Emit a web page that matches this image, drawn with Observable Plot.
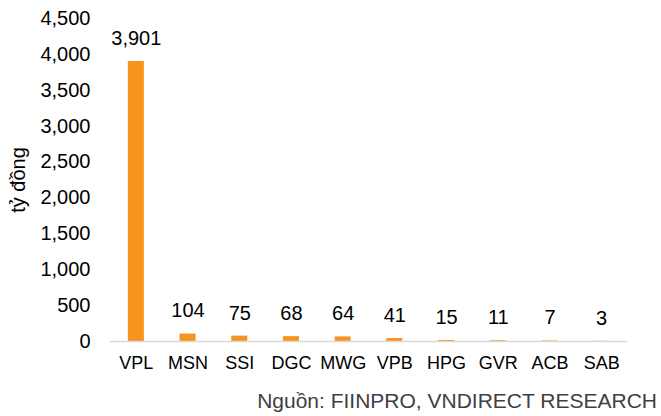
<!DOCTYPE html>
<html>
<head>
<meta charset="utf-8">
<script src="https://cdn.jsdelivr.net/npm/d3@7"></script>
<script src="https://cdn.jsdelivr.net/npm/@observablehq/plot@0.6"></script>
<style>
  body { margin: 0; background: #fff; font-family: "Liberation Sans", Arial, sans-serif; }
  #wrap { width: 661px; height: 416px; position: relative; }
  #caption { position: absolute; right: 4px; top: 389px; font-size: 21px; line-height: 24px; color: #404040; }
</style>
</head>
<body>
<div id="wrap"><div id="chart"></div><div id="caption">Nguồn: FIINPRO, VNDIRECT RESEARCH</div></div>
<script>
const tickers = ["VPL", "MSN", "SSI", "DGC", "MWG", "VPB", "HPG", "GVR", "ACB", "SAB"];
const values = [3901, 104, 75, 68, 64, 41, 15, 11, 7, 3];
const yTicks = [0, 500, 1000, 1500, 2000, 2500, 3000, 3500, 4000, 4500];
const yLabel = "tỷ đồng";

const data = tickers.map((t, i) => ({ticker: t, value: values[i]}));
const fmt = d3.format(",d");

const chart = Plot.plot({
  width: 661,
  height: 390,
  marginLeft: 110,
  marginRight: 34,
  marginTop: 18,
  marginBottom: 49,
  style: { fontFamily: '"Liberation Sans", Arial, sans-serif', color: "#000", background: "#fff" },
  x: { domain: tickers, paddingInner: 0.69, paddingOuter: 0.345, round: false, label: null },
  y: { domain: [0, 4500], label: null },
  marks: [
    Plot.barY(data, { x: "ticker", y: "value", fill: "#f7941d" }),
    Plot.ruleY([0], { stroke: "#d9d9d9", strokeWidth: 1.5 }),
    Plot.text(data, { x: "ticker", y: "value", text: d => fmt(d.value), dy: -23, fontSize: 20, fill: "#000" }),
    Plot.axisY({ ticks: yTicks, tickSize: 0, tickPadding: 20, tickFormat: d => fmt(d), fontSize: 20, label: null }),
    Plot.axisX({ tickSize: 0, tickPadding: 15, fontSize: 18, label: null }),
    Plot.text([yLabel], { frameAnchor: "left", textAnchor: "middle", rotate: -90, dx: -92, fontSize: 20, fill: "#000" })
  ]
});
document.getElementById("chart").appendChild(chart);
</script>
</body>
</html>
